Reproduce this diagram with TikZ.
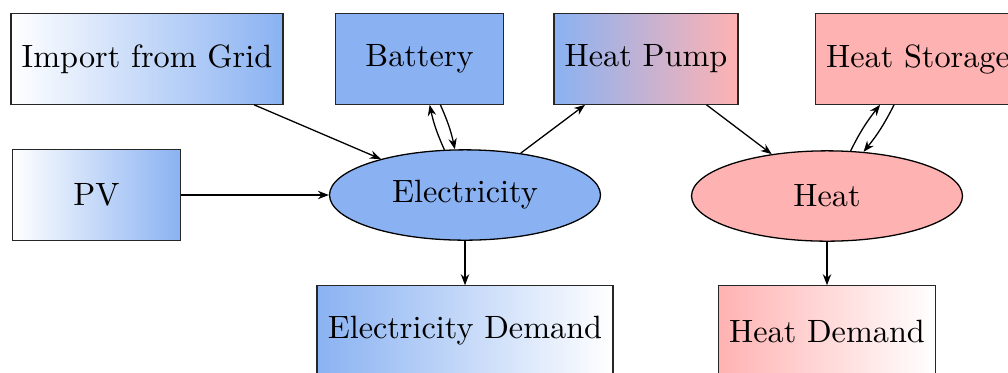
\documentclass[tikz,border=0pt]{standalone}
\usetikzlibrary{arrows.meta,shapes.geometric}
\definecolor{elecblue}{RGB}{138,178,242}
\definecolor{heatred}{RGB}{255,178,178}
\tikzset{
  unit/.style={
    rectangle, draw=black!85,
    minimum width=52pt, minimum height=28pt,
    align=center
  },
  carrier/.style={
    ellipse, draw=black,
    minimum width=84pt, minimum height=28pt
  },
  flow/.style={-{Stealth[length=3.4pt, width=2.6pt]}, draw=black}
}
\begin{document}
\begin{tikzpicture}[x=0.31pt, y=-0.31pt]
  \useasboundingbox (0,0) rectangle (1008,372);

  % Top row
  \node[unit, left color=white, right color=elecblue] (grid) at (147,59) {Import from Grid};
  \node[unit, fill=elecblue] (battery) at (419.5,59) {Battery};
  \node[unit, left color=elecblue, right color=heatred] (heatpump) at (646,59) {Heat Pump};
  \node[unit, fill=heatred] (heatstorage) at (918,59) {Heat Storage};

  % Middle row
  \node[unit, left color=white, right color=elecblue] (pv) at (96.5,195) {PV};
  \node[carrier, fill=elecblue] (elec) at (465,195) {Electricity};
  \node[carrier, fill=heatred] (heat) at (827,196) {Heat};

  % Demands
  \node[unit, left color=elecblue, right color=white] (elecdemand) at (465,331) {Electricity Demand};
  \node[unit, left color=heatred, right color=white] (heatdemand) at (827,331) {Heat Demand};

  % Electricity side
  \draw[flow] (grid) -- (elec);
  \draw[flow] (pv) -- (elec);
  \draw[flow] (elec) to[bend left=6] (battery);
  \draw[flow] (battery) to[bend left=6] (elec);
  \draw[flow] (elec) -- (heatpump);
  \draw[flow] (elec) -- (elecdemand);

  % Heat side
  \draw[flow] (heatpump) -- (heat);
  \draw[flow] (heat) to[bend left=6] (heatstorage);
  \draw[flow] (heatstorage) to[bend left=6] (heat);
  \draw[flow] (heat) -- (heatdemand);
\end{tikzpicture}
\end{document}
